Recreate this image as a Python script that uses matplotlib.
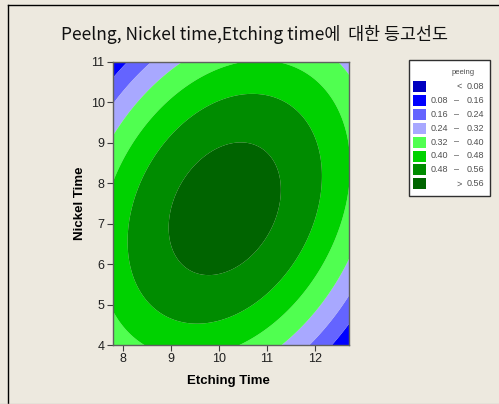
import numpy as np
import matplotlib
matplotlib.use("Agg")
import matplotlib.pyplot as plt
from matplotlib.patches import Rectangle
from matplotlib.lines import Line2D

# ---- data (second-order response surface) ----
etching_range = [7.79, 12.71]
nickel_range = [4.0, 11.0]
# peeling = peak - a*(E-E0)^2 - b*(N-N0)^2 + 2c*(E-E0)*(N-N0)
peak_value = 0.60
peak_location = [10.12, 7.37]          # Etching, Nickel
curvature = [0.03183, 0.01617, 0.00647]  # a, b, c

levels = [0.08, 0.16, 0.24, 0.32, 0.40, 0.48, 0.56]
level_colors = ['#0000C0', '#0000FF', '#6464FF', '#A8A8FF',
                '#50FF50', '#00D200', '#008C00', '#006400']
legend_labels = ['<  0.08', '0.08  –  0.16', '0.16  –  0.24', '0.24  –  0.32',
                 '0.32  –  0.40', '0.40  –  0.48', '0.48  –  0.56', '>  0.56']
x_ticks = [8, 9, 10, 11, 12]
y_ticks = [4, 5, 6, 7, 8, 9, 10, 11]
title = 'Peelng, Nickel time,Etching time에  대한 등고선도'
x_label = 'Etching Time'
y_label = 'Nickel Time'
legend_title = 'peeing'

bg = '#EDE9DF'
W, H = 499, 404
fig = plt.figure(figsize=(W / 100, H / 100), dpi=100, facecolor=bg)

ax = fig.add_axes([113 / W, 1 - 345 / H, 236 / W, 283 / H])
ax.set_facecolor(bg)

E = np.linspace(etching_range[0], etching_range[1], 400)
N = np.linspace(nickel_range[0], nickel_range[1], 400)
EE, NN = np.meshgrid(E, N)
U = EE - peak_location[0]
V = NN - peak_location[1]
a, b, c = curvature
Z = peak_value - a * U ** 2 - b * V ** 2 + 2 * c * U * V

all_levels = [-10] + levels + [10]
ax.contourf(EE, NN, Z, levels=all_levels, colors=level_colors, antialiased=True)

ax.set_xlim(etching_range)
ax.set_ylim(nickel_range)
tick_font = ['Liberation Sans', 'DejaVu Sans']
ax.set_xticks(x_ticks)
ax.set_yticks(y_ticks)
ax.set_xticklabels([str(t) for t in x_ticks], family=tick_font, fontsize=9, color='#202020')
ax.set_yticklabels([str(t) for t in y_ticks], family=tick_font, fontsize=9, color='#202020')
ax.tick_params(direction='out', length=4, width=0.8, color='#404040', pad=2)
for s in ax.spines.values():
    s.set_color('#606060')
    s.set_linewidth(1.0)

fig.text(228 / W, 1 - 381 / H, x_label, ha='center', va='center',
         fontsize=9.5, fontweight='bold', family=['Liberation Sans', 'DejaVu Sans'])
fig.text(80 / W, 1 - 203 / H, y_label, ha='center', va='center', rotation=90,
         fontsize=9.5, fontweight='bold', family=['Liberation Sans', 'DejaVu Sans'])

fig.text(255 / W, 1 - 34 / H, title, ha='center', va='center', fontsize=12.5,
         family=['Noto Sans CJK KR', 'DejaVu Sans'], color='#111111')

# legend box
lx0, ly0, lx1, ly1 = 409, 60, 490, 196
fig.patches.append(Rectangle((lx0 / W, 1 - ly1 / H), (lx1 - lx0) / W, (ly1 - ly0) / H,
                             transform=fig.transFigure, facecolor='white',
                             edgecolor='#303030', linewidth=1.0))
fig.text(463 / W, 1 - 72 / H, legend_title, ha='center', va='center', fontsize=5.5,
         color='#505050', family=tick_font)
row0, step = 86.5, 13.9
for i, (col, lab) in enumerate(zip(level_colors, legend_labels)):
    yc = row0 + i * step
    fig.patches.append(Rectangle((413 / W, 1 - (yc + 5.5) / H), 13 / W, 11 / H,
                                 transform=fig.transFigure, facecolor=col,
                                 edgecolor='none'))
    if i == 0 or i == len(level_colors) - 1:
        sym, val = lab.split()
        fig.text(459 / W, 1 - yc / H, sym, ha='center', va='center', fontsize=6.5,
                 color='#505050', family=tick_font)
        fig.text(467 / W, 1 - yc / H, val, ha='left', va='center', fontsize=6.5,
                 color='#505050', family=tick_font)
    else:
        lo, hi = lab.split('–')
        fig.text(431 / W, 1 - yc / H, lo.strip(), ha='left', va='center', fontsize=6.5,
                 color='#505050', family=tick_font)
        fig.text(456 / W, 1 - yc / H, '–', ha='center', va='center', fontsize=6.5,
                 color='#505050', family=tick_font)
        fig.text(467 / W, 1 - yc / H, hi.strip(), ha='left', va='center', fontsize=6.5,
                 color='#505050', family=tick_font)

# outer frame lines
fig.lines.append(Line2D([7.5 / W, 7.5 / W], [0, 1 - 4.5 / H], transform=fig.transFigure,
                        color='black', linewidth=1.0))
fig.lines.append(Line2D([7.5 / W, 1], [1 - 4.5 / H, 1 - 4.5 / H], transform=fig.transFigure,
                        color='black', linewidth=1.0))
fig.lines.append(Line2D([0, 1], [0.5 / H, 0.5 / H], transform=fig.transFigure,
                        color='#C8C5BC', linewidth=1.0))

fig.savefig('out.png', dpi=100, facecolor=bg)
